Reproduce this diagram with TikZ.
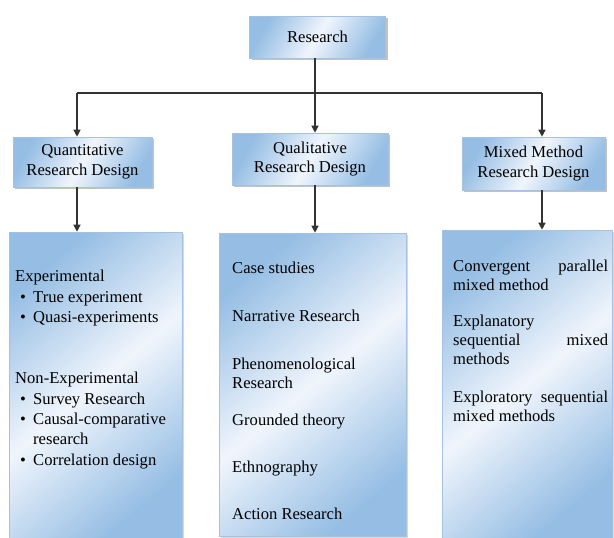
\documentclass[tikz,border=0pt]{standalone}
\usepackage{fontspec}
\setmainfont{Liberation Serif}
\usetikzlibrary{shadows,arrows.meta}
\definecolor{bblue}{RGB}{150,190,228}
\definecolor{bwhite}{RGB}{240,245,252}
\definecolor{bdraw}{RGB}{165,195,225}
\tikzset{
  boxbase/.style={draw=bdraw, line width=0.6pt, inner sep=0pt,
    left color=bblue, right color=bblue, middle color=bwhite},
  hdr/.style={boxbase, shading angle=60, align=center,
    drop shadow={shadow xshift=2pt,shadow yshift=-2pt,fill=black!40,opacity=0.6}},
  bigbox/.style={boxbase, shading angle=40,
    drop shadow={shadow xshift=1.5pt,shadow yshift=-1.5pt,fill=black!30,opacity=0.5}},
  conn/.style={line width=1.3pt, draw=black!80},
  arr/.style={conn, -{Triangle[length=7pt,width=7pt]}},
  txt/.style={anchor=base west, inner sep=0pt},
}
\begin{document}
\begin{tikzpicture}[x=1pt,y=-1pt, font=\fontsize{16.6}{19.5}\selectfont]
\useasboundingbox (0,0) rectangle (614,538);

% header boxes
\node[hdr, minimum width=136pt, minimum height=42pt] (res) at (317.5,37) {Research};
\node[hdr, minimum width=139pt, minimum height=50pt] (qn) at (82.5,162) {Quantitative\\Research Design};
\node[hdr, minimum width=156pt, minimum height=52pt] (ql) at (310,159) {Qualitative\\Research Design};
\node[hdr, minimum width=143pt, minimum height=53pt] (mx) at (533.5,163.5) {Mixed Method\\Research Design};

% big boxes
\node[bigbox, minimum width=173pt, minimum height=306pt] (qnb) at (95.5,385) {};
\node[bigbox, minimum width=187pt, minimum height=303pt] (qlb) at (312.5,384.5) {};
\node[bigbox, minimum width=170pt, minimum height=308pt] (mxb) at (527,384) {};

% connectors
\coordinate (jL) at (77,93);
\coordinate (jM) at (315,93);
\coordinate (jR) at (542,93);
\draw[conn] (res.south -| jM) -- (jM);
\draw[conn] (jL) -- (jR);
\draw[arr] (jL) -- (jL |- qn.north);
\draw[arr] (jM) -- (jM |- ql.north);
\draw[arr] (jR) -- (jR |- mx.north);
\draw[arr] (qn.south -| jL) -- (jL |- qnb.north);
\draw[arr] (ql.south -| jM) -- (jM |- qlb.north);
\draw[arr] (mx.south -| jR) -- (jR |- mxb.north);

% left box text
\node[txt] (l1) at (15,281) {Experimental};
\node[txt] (l1a) at (20,302) {•};
\node[txt] (l1b) at (33,302) {True experiment};
\node[txt] (l2a) at (20,322) {•};
\node[txt] (l2b) at (33,322) {Quasi-experiments};
\node[txt] (l3) at (15,383) {Non-Experimental};
\node[txt] (l3a) at (20,404) {•};
\node[txt] (l3b) at (33,404) {Survey Research};
\node[txt] (l4a) at (20,424) {•};
\node[txt] (l4b) at (33,424) {Causal-comparative};
\node[txt] (l4c) at (33,444) {research};
\node[txt] (l5a) at (20,465) {•};
\node[txt] (l5b) at (33,465) {Correlation design};

% middle box text
\node[txt] (m1) at (232,273) {Case studies};
\node[txt] (m2) at (232,321) {Narrative Research};
\node[txt] (m3) at (232,369) {Phenomenological};
\node[txt] (m3b) at (232,388) {Research};
\node[txt] (m4) at (232,425) {Grounded theory};
\node[txt] (m5) at (232,472) {Ethnography};
\node[txt] (m6) at (232,519) {Action Research};

% right box text
\node[txt] (r1) at (453,271) {\hbox to 155pt{Convergent\hfill parallel}};
\node[txt] (r1b) at (453,290) {mixed method};
\node[txt] (r2) at (453,326) {Explanatory};
\node[txt] (r2b) at (453,345) {\hbox to 155pt{sequential\hfill mixed}};
\node[txt] (r2c) at (453,364) {methods};
\node[txt] (r3) at (453,402) {\hbox to 155pt{Exploratory\hfill sequential}};
\node[txt] (r3b) at (453,421) {mixed methods};
\end{tikzpicture}
\end{document}
